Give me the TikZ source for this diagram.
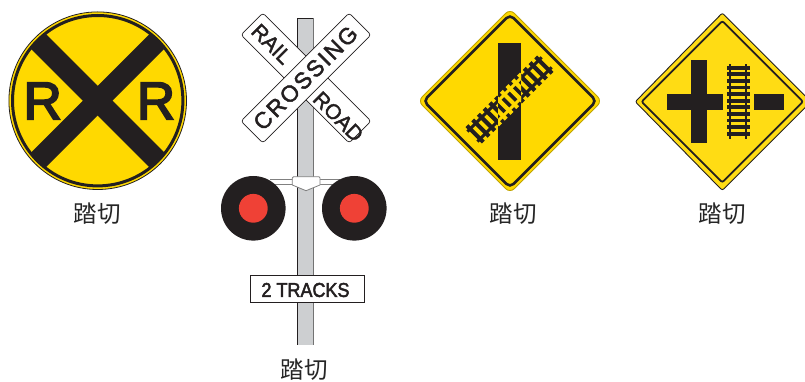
\documentclass[tikz,border=0pt]{standalone}
\usepackage{fontspec}
\setmainfont{Liberation Sans}
\newfontfamily\signfont{Liberation Sans}[FakeBold=2,LetterSpace=8.5]
\newfontfamily\railfont{Liberation Sans}[FakeBold=2,LetterSpace=0]
\newfontfamily\rfont{Liberation Sans}[FakeBold=3.5]
\newfontfamily\plfont{Liberation Sans}[FakeBold=2.5]
\newfontfamily\cjk{Noto Sans CJK JP}
\definecolor{signyellow}{HTML}{FFD900}
\definecolor{signyellowb}{HTML}{FFDC14}
\definecolor{signblack}{HTML}{231F20}
\definecolor{signred}{HTML}{EF4136}
\definecolor{polegrey}{HTML}{CDCFD1}
\tikzset{
  board/.style={draw=signblack,line width=0.7pt,fill=white,rounded corners=3pt,minimum width=153pt,minimum height=31pt,inner sep=0pt,text=signblack},
  boardtext/.style={inner sep=0pt,text=signblack,font=\signfont\fontsize{23}{23}\selectfont},
  railtext/.style={inner sep=0pt,text=signblack,font=\railfont\fontsize{21}{21}\selectfont},
  caption/.style={inner sep=0pt,text=black!85,font=\cjk\fontsize{23.5}{23.5}\selectfont},
  rletter/.style={inner sep=0pt,text=signblack,font=\rfont\fontsize{53}{53}\selectfont},
  lamp/.style={circle,fill=signblack,minimum size=64.6pt,inner sep=0pt},
  lens/.style={circle,fill=signred,minimum size=28.8pt,inner sep=0pt},
  plate/.style={draw=signblack,line width=0.9pt,fill=white,minimum width=114pt,minimum height=26.7pt,inner sep=0pt},
}
\newcommand{\tracktiesdiag}[1]{%
  \foreach \k in {-6,...,6}{\fill[#1] (\k*8.1-2.1,-11.5) rectangle (\k*8.1+2.1,11.5);}
  \fill[#1] (-52.5,-8.5) rectangle (52.5,-5.5);
  \fill[#1] (-52.5,5.5) rectangle (52.5,8.5);
}
\begin{document}
\begin{tikzpicture}[x=1pt,y=-1pt]
\useasboundingbox (0,0) rectangle (805,382);
\clip (0,0) rectangle (805,382);
% --- round advance sign
\fill[signyellow,draw=signblack,line width=0.8pt] (97.7,100.7) circle (88.8);
\begin{scope}
  \clip (97.7,100.7) circle (85);
  \draw[signblack,line width=21pt] (7.7,10.7) -- (187.7,190.7);
  \draw[signblack,line width=21pt] (7.7,190.7) -- (187.7,10.7);
\end{scope}
\draw[signblack,line width=3pt] (97.7,100.7) circle (85.2);
\node[rletter] (rleft) at (42.7,101) {R};
\node[rletter] (rright) at (156,101) {R};
\node[caption] (cap1) at (97,214) {踏切};
% --- crossbuck signal
\fill[polegrey] (297.5,18) rectangle (313.3,345);
\draw[signblack,line width=0.9pt] (313.3,18) -- (297.5,18) -- (297.5,345);
\draw[black!55,line width=1pt] (313.3,18) -- (313.3,345);
\node[board,rotate=-45] (railroad) at (306,78) {};
\node[board,rotate=45] (crossing) at (306,78) {};
\node[boardtext,rotate=45] (crosstext) at (305.5,78) {CROSSING};
\node[railtext,rotate=-45] (railtext) at (271.7,44) {RAIL};
\node[railtext,rotate=-45] (roadtext) at (338.3,116.7) {ROAD};
\draw[black!50,line width=0.8pt] (270,179.3) -- (340,179.3);
\draw[black!50,line width=0.8pt] (270,184) -- (340,184);
\fill[white] (285,180) rectangle (326,183.5);
\draw[black!50,line width=0.8pt,fill=white,line join=round] (293.5,176.7) -- (319,176.7) -- (320,178) -- (320,185) -- (306,190.7) -- (292.3,185) -- (292.3,178) -- cycle;
\node[lamp] (lampl) at (253.3,208.3) {};
\node[lamp] (lampr) at (354.3,208.3) {};
\node[lens] (lensl) at (253.3,208.3) {};
\node[lens] (lensr) at (354.3,208.3) {};
\node[plate] (plate) at (307.3,288.7) {};
\node[inner sep=0pt,text=signblack,xscale=0.9,font=\plfont\fontsize{20}{20}\selectfont] (platetext) at (305.5,290) {2 TRACKS};
\node[caption] (cap2) at (304,370) {踏切};
% --- skewed crossing diamond
\draw[fill=signyellow,draw=black!25!signyellow,line width=0.9pt,rounded corners=6pt]
  (510,9) -- (602,101) -- (510,193) -- (418,101) -- cycle;
\draw[signblack,line width=2.6pt,rounded corners=5pt]
  (510,14.5) -- (596.5,101) -- (510,187.5) -- (423.5,101) -- cycle;
\fill[signblack] (498,43) rectangle (521,160);
\begin{scope}[shift={(509.5,99.5)},rotate=45]
  \tracktiesdiag{signblack}
\end{scope}
\begin{scope}
  \clip (498,43) rectangle (521,160);
  \begin{scope}[shift={(509.5,99.5)},rotate=45]
    \tracktiesdiag{signyellow}
  \end{scope}
\end{scope}
\node[caption] (cap3) at (513,214) {踏切};
% --- side road crossing diamond
\draw[fill=signyellowb,draw=signblack,line width=0.9pt,rounded corners=2pt]
  (722.3,13) -- (811,101.7) -- (722.3,190.4) -- (635.3,101.7) -- cycle;
\draw[signblack,line width=1.8pt,rounded corners=2pt]
  (722.3,21) -- (803,101.7) -- (722.3,182.4) -- (641.6,101.7) -- cycle;
\fill[signblack] (691,60) rectangle (707,142.7);
\fill[signblack] (667,94) rectangle (723,110);
\fill[signblack] (754,94) rectangle (784,110);
\fill[signblack] (728.8,64.3) rectangle (730.8,139);
\fill[signblack] (745.3,64.3) rectangle (747.3,139);
\foreach \k in {0,...,10}{\fill[signblack] (727,{65.9+\k*6.6}) rectangle (750,{69.6+\k*6.6});}
\node[caption] (cap4) at (722,214) {踏切};
\end{tikzpicture}
\end{document}
